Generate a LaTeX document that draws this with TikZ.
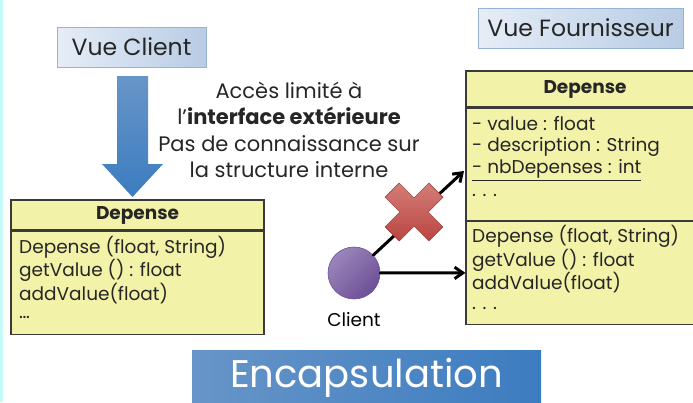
\documentclass[tikz,border=0pt]{standalone}
\usepackage{fontspec}
\setmainfont{Poppins}
\usetikzlibrary{arrows.meta, calc}

\definecolor{txt}{HTML}{262626}
\definecolor{classfill}{HTML}{F3F2A9}
\definecolor{classline}{HTML}{3A3A3A}
\definecolor{vueleft}{HTML}{E6EDF7}
\definecolor{vueright}{HTML}{B8CCE4}
\definecolor{vueline}{HTML}{95B3D7}
\definecolor{bigblueA}{HTML}{6795C8}
\definecolor{bigblueB}{HTML}{3C7CC0}
\definecolor{crossA}{HTML}{D47D79}
\definecolor{crossB}{HTML}{BA4540}
\definecolor{clientA}{HTML}{9A86BA}
\definecolor{clientB}{HTML}{6E4F96}
\definecolor{strip}{HTML}{C4FAFA}

\begin{document}
\begin{tikzpicture}[x=1pt, y=-1pt, >={Straight Barb[angle=70:10pt]},
  vue/.style={draw=vueline, line width=0.8pt, left color=vueleft, right color=vueright,
    inner sep=0pt, text=txt, font=\fontsize{23.5}{27}\selectfont},
  classbox/.style={draw=classline, fill=classfill, line width=1.2pt, inner sep=0pt,
    text=txt, font=\bfseries\fontsize{18.5}{22}\selectfont},
  member/.style={anchor=west, inner sep=0pt, text=txt, font=\fontsize{18.5}{22}\selectfont},
  link/.style={->, line width=3pt, line cap=round}]

  \useasboundingbox (0,0) rectangle (693,402);
  \fill[strip] (0,0) rectangle (3,402);

  % The two views
  \node[vue, minimum width=149pt, minimum height=40pt] (vc) at (131.5,47) {Vue Client};
  \node[vue, minimum width=205pt, minimum height=40pt] (vf) at (580.5,28) {Vue Fournisseur};

  % Big arrow under the client view
  \draw[top color=bigblueA, bottom color=bigblueB, draw=none]
    (117,76) -- (148,76) -- (148,164) -- (163,164) -- (132.5,197)
    -- (102,164) -- (117,164) -- cycle;

  % Caption
  \node[text=txt, align=center, font=\fontsize{21}{26.5}\selectfont] (note) at (289,130)
    {Accès limité à\\l'\textbf{interface extérieure}\\Pas de connaissance sur\\la structure interne};

  % Class as seen by the client
  \node[classbox, minimum width=253pt, minimum height=30pt] (cHead) at (137.5,215) {Depense};
  \node[classbox, minimum width=253pt, minimum height=103pt, anchor=north] (cMeth) at (cHead.south) {};
  \node[member] (cm1) at (19,247) {Depense (float, String)};
  \node[member] (cm2) at (19,270) {getValue () : float};
  \node[member] (cm3) at (19,294) {addValue(float)};
  \node[member] (cm4) at (19,317) {\dots};

  % Class as seen by the supplier
  \node[classbox, minimum width=238pt, minimum height=36pt] (rHead) at (585,89) {Depense};
  \node[classbox, minimum width=238pt, minimum height=112pt, anchor=north] (rAttr) at (rHead.south) {};
  \node[classbox, minimum width=238pt, minimum height=103pt, anchor=north] (rMeth) at (rAttr.south) {};
  \node[member] (ra1) at (472,124) {- value : float};
  \node[member] (ra2) at (472,147) {- description : String};
  \node[member] (ra3) at (472,170) {\underline{- nbDepenses : int}};
  \node[member] (ra4) at (472,195) {. . .};
  \node[member] (rm1) at (472,236) {Depense (float, String)};
  \node[member] (rm2) at (472,260) {getValue () : float};
  \node[member] (rm3) at (472,283) {addValue(float)};
  \node[member] (rm4) at (472,308) {. . .};

  % Client and its accesses
  \node[circle, minimum size=52pt, draw=clientB, line width=0.6pt,
        left color=clientA, right color=clientB, shading angle=45] (cl) at (354,273) {};
  \node[font=\fontsize{18.5}{22}\selectfont] (clName) at (354,320) {Client};
  \coordinate (attrIn) at (464,171);
  \draw[link] (cl) -- (attrIn);
  \draw[link] (cl) -- (rMeth.west);

  % Forbidden access
  \draw[shift={(414,212)}, rotate=45, draw=crossB!80!black, line width=0.5pt,
        top color=crossA, bottom color=crossB]
    (-10,-31) -- (10,-31) -- (10,-10) -- (31,-10) -- (31,10) -- (10,10)
    -- (10,31) -- (-10,31) -- (-10,10) -- (-31,10) -- (-31,-10) -- (-10,-10) -- cycle;

  % Title
  \node[left color=bigblueA, right color=bigblueB, minimum width=349pt, minimum height=56pt,
        text=white, font=\fontsize{38.5}{44}\selectfont] (encap) at (366.5,378) {Encapsulation};
\end{tikzpicture}
\end{document}
